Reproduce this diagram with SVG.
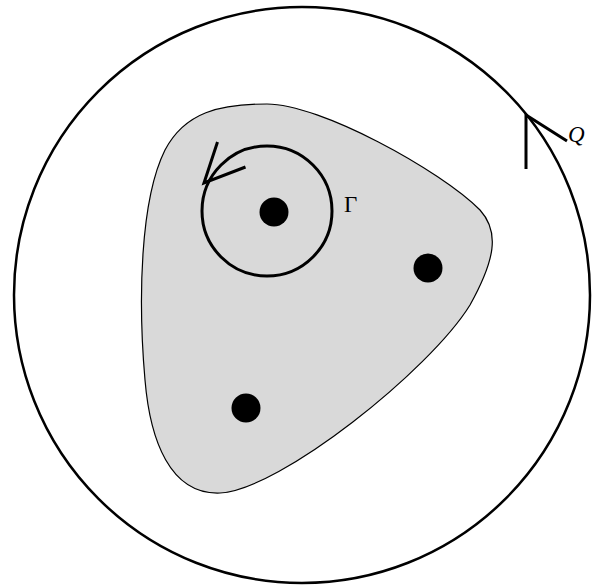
<svg xmlns="http://www.w3.org/2000/svg" width="595" height="587" viewBox="0 0 595 587">
<style>
.ln{fill:none;stroke:#000;stroke-linecap:butt;stroke-linejoin:miter}
.dot{fill:#000}
.lbl{font-family:"Liberation Serif","DejaVu Serif",serif;font-size:23px;fill:#000}
</style>
<rect width="595" height="587" fill="#fff"/>
<g id="outer">
<circle cx="302" cy="295" r="288" class="ln" stroke-width="2.5"/>
</g>
<g id="region">
<path d="M267,104 C320,104 440,170 480,210 C500,232 495,260 470,305 C430,370 280,490 220,493 C170,495 150,440 145,380 C138,300 140,200 165,150 C185,112 220,104 267,104 Z" fill="#d9d9d9" stroke="#000" stroke-width="1.2"/>
</g>
<g id="gamma">
<circle cx="267" cy="211" r="65" class="ln" stroke-width="3"/>
<text class="lbl" x="344" y="212">Γ</text>
</g>
<g id="p1"><circle cx="274" cy="212" r="14.5" class="dot"/></g>
<g id="p2"><circle cx="428" cy="268" r="14.5" class="dot"/></g>
<g id="p3"><circle cx="246" cy="408" r="14.5" class="dot"/></g>
<g id="connectors">
<polyline points="217.5,142 204,183 245.5,167" class="ln" stroke-width="3"/>
<polyline points="526,169 526,115 567,141" class="ln" stroke-width="3"/>
</g>
<g id="qlabel">
<text class="lbl" x="568" y="142" font-style="italic">Q</text>
</g>
</svg>
